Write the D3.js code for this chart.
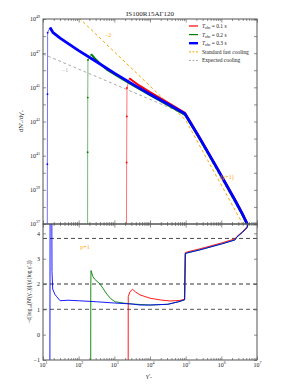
<!DOCTYPE html>
<html lang="en">
<head>
<meta charset="utf-8">
<title>IS100R15AG120</title>
<script src="https://d3js.org/d3.v7.min.js"></script>
<style>
  body { margin: 0; background: #fff; }
  text { font-family: "Liberation Serif", "DejaVu Serif", serif; fill: #222; }
</style>
</head>
<body>
<div id="chart"></div>
<script>
// ---- values (log10 gamma'_e, log10 dN/dgamma) ----
const xDecades = [1, 2, 3, 4, 5, 6, 7];
const yTopDecades = [37, 38, 39, 40, 41, 42, 43, 44, 45, 46, 47, 48, 49];
const yTopLabels = [37, 39, 41, 43, 45, 47, 49];
const idxTicks = [-1, 0, 1, 2, 3, 4];
const refLevels = [3.8, 2, 1];

// rising part (thin) and cooling part (thick) of each spectrum
const redRise = [[3.34, 36], [3.345, 40.6], [3.35, 43.3], [3.355, 44.96], [3.42, 45.53]];
const redFall = [[3.42, 45.53], [3.55, 45.33], [3.72, 45.08], [4.0, 44.72], [4.5, 44.1], [4.98, 43.5],
  [5.1, 43.09], [5.4, 42.03], [5.9, 40.22], [6.4, 38.36], [6.6, 37.58], [6.75, 36.92], [6.85, 36.32]];
const greenRise = [[2.25, 36], [2.252, 41.2], [2.255, 44.4], [2.26, 46.6], [2.35, 46.95]];
const greenFall = [[2.35, 46.95], [2.44, 46.72], [2.6, 46.38], [2.79, 46.04], [3.02, 45.75], [3.25, 45.45],
  [3.5, 45.14], [4.0, 44.54], [4.5, 43.96], [4.98, 43.39], [5.1, 42.99], [5.4, 41.94], [5.9, 40.14],
  [6.4, 38.27], [6.6, 37.49], [6.75, 36.84], [6.85, 36.24]];
const blueRise = [[1.12, 36], [1.123, 40.5], [1.126, 44.6], [1.13, 48.2], [1.196, 48.5]];
const blueFall = [[1.196, 48.5], [1.275, 48.22], [1.48, 47.88], [2.0, 47.15], [2.5, 46.5], [3.0, 45.83],
  [3.5, 45.2], [4.0, 44.6], [4.5, 44.02], [4.98, 43.45], [5.1, 43.05], [5.4, 42.0], [5.9, 40.2],
  [6.4, 38.33], [6.6, 37.55], [6.75, 36.9], [6.85, 36.3]];
const fastCooling = [[1.9, 49.28], [5.0, 43.08], [6.95, 35.67]];
const expectedCooling = [[1.0, 46.95], [4.98, 43.43], [6.75, 36.88]];

// local index  -d log N / d log gamma
const redIdx = [[3.3, -6], [3.385, -5], [3.39, 1.5], [3.44, 1.7], [3.51, 1.79], [3.6, 1.68], [3.72, 1.57],
  [4.0, 1.44], [4.3, 1.37], [4.56, 1.33], [4.84, 1.35], [4.97, 1.4], [4.99, 3.24], [5.05, 3.27],
  [5.4, 3.39], [6.0, 3.62], [6.38, 3.78], [6.44, 3.88], [6.6, 4.08], [6.72, 4.26], [6.82, 4.65]];
const greenIdx = [[2.2, -6], [2.335, -5], [2.34, 1.9], [2.346, 2.53], [2.4, 2.3], [2.44, 2.2], [2.6, 2.0],
  [2.79, 1.6], [2.9, 1.42], [3.02, 1.3], [3.25, 1.25], [3.5, 1.21], [4.0, 1.17], [4.5, 1.2], [4.8, 1.3],
  [4.97, 1.37], [4.99, 3.2], [5.05, 3.23], [5.4, 3.35], [6.0, 3.58], [6.38, 3.74], [6.44, 3.86],
  [6.6, 4.05], [6.72, 4.22], [6.8, 4.6]];
const blueIdx = [[1.12, -6], [1.19, -5], [1.2, 6], [1.245, 6], [1.252, 2.5], [1.272, 1.8], [1.33, 1.6],
  [1.384, 1.5], [1.48, 1.34], [1.7, 1.36], [2.0, 1.34], [2.5, 1.3], [3.0, 1.25], [3.5, 1.21], [3.72, 1.17],
  [4.0, 1.17], [4.5, 1.2], [4.8, 1.3], [4.97, 1.38], [4.99, 3.2], [5.05, 3.23], [5.4, 3.35], [6.0, 3.58],
  [6.38, 3.74], [6.44, 3.86], [6.6, 4.05], [6.72, 4.22], [6.8, 4.6]];

const series = [
  {label: "0.1", color: "#ff0000", rise: redRise, fall: redFall, idx: redIdx, w: 2},
  {label: "0.2", color: "#008000", rise: greenRise, fall: greenFall, idx: greenIdx, w: 2},
  {label: "0.3", color: "#0000ff", rise: blueRise, fall: blueFall, idx: blueIdx, w: 2.8}
];

// ---- layout ----
const W = 294, H = 392;
const padL = 43, padR = 257, padT = 19, padM = 224, padB = 360;

const svg = d3.select("#chart").append("svg")
  .attr("width", W).attr("height", H);

const x = d3.scaleLog().domain([1e1, 1e7]).range([padL, padR]);
const yTop = d3.scaleLog().domain([1e37, 1e49]).range([padM, padT]);
const yBot = d3.scaleLinear().domain([-1, 4.37]).range([padB, padM]);

const lineTop = d3.line().x(d => x(10 ** d[0])).y(d => yTop(10 ** d[1]));
const lineBot = d3.line().x(d => x(10 ** d[0])).y(d => yBot(d[1]));

const defs = svg.append("defs");
defs.append("clipPath").attr("id", "clipTop").append("rect")
  .attr("x", padL).attr("y", padT).attr("width", padR - padL).attr("height", padM - padT);
defs.append("clipPath").attr("id", "clipBot").append("rect")
  .attr("x", padL).attr("y", padM).attr("width", padR - padL).attr("height", padB - padM);

const minorX = [];
xDecades.slice(0, -1).forEach(e => { for (let k = 2; k < 10; k++) minorX.push(k * 10 ** e); });
const majorX = xDecades.map(e => 10 ** e);

// turn "10" labels into 10^n
function sup(g) {
  g.selectAll(".tick text").each(function(d) {
    const t = d3.select(this);
    if (t.text() === "") return;
    const e = Math.round(Math.log10(d));
    t.text("10");
    t.append("tspan").attr("dy", -3).attr("font-size", 4).text(e);
  });
}
function styleAxis(g) {
  g.select(".domain").remove();
  g.selectAll(".tick line").attr("stroke", "#444").attr("stroke-width", 0.6);
  g.selectAll(".tick text").attr("font-size", 6).attr("fill", "#222");
}

// ---- top panel ----
const gTop = svg.append("g");
const topPlot = gTop.append("g").attr("clip-path", "url(#clipTop)");

topPlot.append("path").datum(expectedCooling).attr("d", lineTop)
  .attr("fill", "none").attr("stroke", "#aaaaaa").attr("stroke-width", 1)
  .attr("stroke-dasharray", "3,2.5");
topPlot.append("path").datum(fastCooling).attr("d", lineTop)
  .attr("fill", "none").attr("stroke", "#ffa500").attr("stroke-width", 1)
  .attr("stroke-dasharray", "3,2.5");

series.forEach(s => {
  topPlot.append("path").datum(s.rise).attr("d", lineTop)
    .attr("fill", "none").attr("stroke", s.color).attr("stroke-width", 1).attr("opacity", 0.55);
  topPlot.selectAll(null).data(s.rise.slice(1, -1)).join("circle")
    .attr("cx", d => x(10 ** d[0])).attr("cy", d => yTop(10 ** d[1])).attr("r", 0.9)
    .attr("fill", s.color);
  topPlot.append("path").datum(s.fall).attr("d", lineTop)
    .attr("fill", "none").attr("stroke", s.color).attr("stroke-width", s.w)
    .attr("stroke-linejoin", "round");
});

// annotations
svg.append("text").attr("x", 108).attr("y", 37).attr("font-size", 6).attr("text-anchor", "middle")
  .style("fill", "#ffa500").text("−2");
svg.append("text").attr("x", 65).attr("y", 72).attr("font-size", 6).attr("text-anchor", "middle")
  .style("fill", "#aaaaaa").text("−1");
svg.append("text").attr("x", 227).attr("y", 179).attr("font-size", 6).attr("text-anchor", "middle")
  .style("fill", "#ffa500").text("(p+1)");

// axes top
gTop.append("g").attr("transform", `translate(0,${padT})`)
  .call(d3.axisTop(x).tickValues(majorX).tickSize(-3.5).tickFormat("")).call(styleAxis);
gTop.append("g").attr("transform", `translate(0,${padT})`)
  .call(d3.axisTop(x).tickValues(minorX).tickSize(-2).tickFormat("")).call(styleAxis);
gTop.append("g").attr("transform", `translate(0,${padM})`)
  .call(d3.axisBottom(x).tickValues(majorX).tickSize(-3.5).tickFormat("")).call(styleAxis);
gTop.append("g").attr("transform", `translate(0,${padM})`)
  .call(d3.axisBottom(x).tickValues(minorX).tickSize(-2).tickFormat("")).call(styleAxis);
gTop.append("g").attr("transform", `translate(${padL},0)`)
  .call(d3.axisLeft(yTop).tickValues(yTopDecades.map(e => 10 ** e)).tickSize(-3).tickPadding(3)
    .tickFormat(d => yTopLabels.includes(Math.round(Math.log10(d))) ? "10" : ""))
  .call(styleAxis).call(sup);
gTop.append("g").attr("transform", `translate(${padR},0)`)
  .call(d3.axisRight(yTop).tickValues(yTopDecades.map(e => 10 ** e)).tickSize(-3).tickFormat(""))
  .call(styleAxis);

// ---- bottom panel ----
const gBot = svg.append("g");
const botPlot = gBot.append("g").attr("clip-path", "url(#clipBot)");

refLevels.forEach((v, i) => {
  botPlot.append("line")
    .attr("x1", padL).attr("x2", padR).attr("y1", yBot(v)).attr("y2", yBot(v))
    .attr("stroke", i === 0 ? "#333" : "#777").attr("stroke-width", i === 0 ? 0.9 : 1.3)
    .attr("stroke-dasharray", "4,3");
});

series.forEach(s => {
  botPlot.append("path").datum(s.idx).attr("d", lineBot)
    .attr("fill", "none").attr("stroke", s.color).attr("stroke-width", 0.9)
    .attr("stroke-linejoin", "round");
});

svg.append("text").attr("x", 85).attr("y", 249).attr("font-size", 6).attr("text-anchor", "middle")
  .style("fill", "#ffa500").text("p+1");

gBot.append("g").attr("transform", `translate(0,${padM})`)
  .call(d3.axisTop(x).tickValues(majorX).tickSize(-3.5).tickFormat("")).call(styleAxis);
gBot.append("g").attr("transform", `translate(0,${padM})`)
  .call(d3.axisTop(x).tickValues(minorX).tickSize(-2).tickFormat("")).call(styleAxis);
gBot.append("g").attr("transform", `translate(0,${padB})`)
  .call(d3.axisBottom(x).tickValues(majorX).tickSize(-3.5).tickPadding(3).tickFormat(() => "10"))
  .call(styleAxis).call(sup);
gBot.append("g").attr("transform", `translate(0,${padB})`)
  .call(d3.axisBottom(x).tickValues(minorX).tickSize(-2).tickFormat("")).call(styleAxis);
gBot.append("g").attr("transform", `translate(${padL},0)`)
  .call(d3.axisLeft(yBot).tickValues(idxTicks).tickSize(-3).tickPadding(3).tickFormat(d3.format("d")))
  .call(styleAxis);
gBot.append("g").attr("transform", `translate(${padR},0)`)
  .call(d3.axisRight(yBot).tickValues(idxTicks).tickSize(-3).tickFormat(""))
  .call(styleAxis);

// frames
[[padT, padM], [padM, padB]].forEach(([a, b]) => {
  svg.append("rect").attr("x", padL).attr("y", a).attr("width", padR - padL).attr("height", b - a)
    .attr("fill", "none").attr("stroke", "#555").attr("stroke-width", 1);
});

// ---- titles and labels ----
svg.append("text").attr("x", 150).attr("y", 16).attr("font-size", 7).attr("text-anchor", "middle")
  .text("IS100R15AΓ120");
svg.append("text").attr("transform", "translate(23,121) rotate(-90)").attr("font-size", 6.5)
  .attr("text-anchor", "middle").text("dN′ₑ/dγ′ₑ");
svg.append("text").attr("transform", "translate(31,292) rotate(-90)").attr("font-size", 5.5)
  .attr("text-anchor", "middle").text("−d[log₁₀(N′(γ′ₑ))]/(d[log γ′ₑ])");
svg.append("text").attr("x", 149).attr("y", 378).attr("font-size", 6.5).attr("text-anchor", "middle")
  .text("γ′ₑ");

// ---- legend ----
const legendRows = [
  ...series.map(s => ({color: s.color, w: s.w === 2.8 ? 2.4 : 1.2, dash: null, T: s.label})),
  {color: "#ffa500", w: 1, dash: "2,1.5", text: "Standard fast cooling"},
  {color: "#aaaaaa", w: 1, dash: "2,1.5", text: "Expected cooling"}
];
const leg = svg.append("g");
legendRows.forEach((r, i) => {
  const yy = 26 + i * 8.6;
  leg.append("line").attr("x1", 189).attr("x2", 198).attr("y1", yy).attr("y2", yy)
    .attr("stroke", r.color).attr("stroke-width", r.w).attr("stroke-dasharray", r.dash);
  const t = leg.append("text").attr("x", 202).attr("y", yy + 2).attr("font-size", 5.5);
  if (r.T) {
    t.append("tspan").attr("font-style", "italic").text("T");
    t.append("tspan").attr("font-size", 3.8).attr("dy", 1.2).text("obs");
    t.append("tspan").attr("dy", -1.2).text(" = " + r.T + " s");
  } else {
    t.text(r.text);
  }
});
</script>
</body>
</html>
